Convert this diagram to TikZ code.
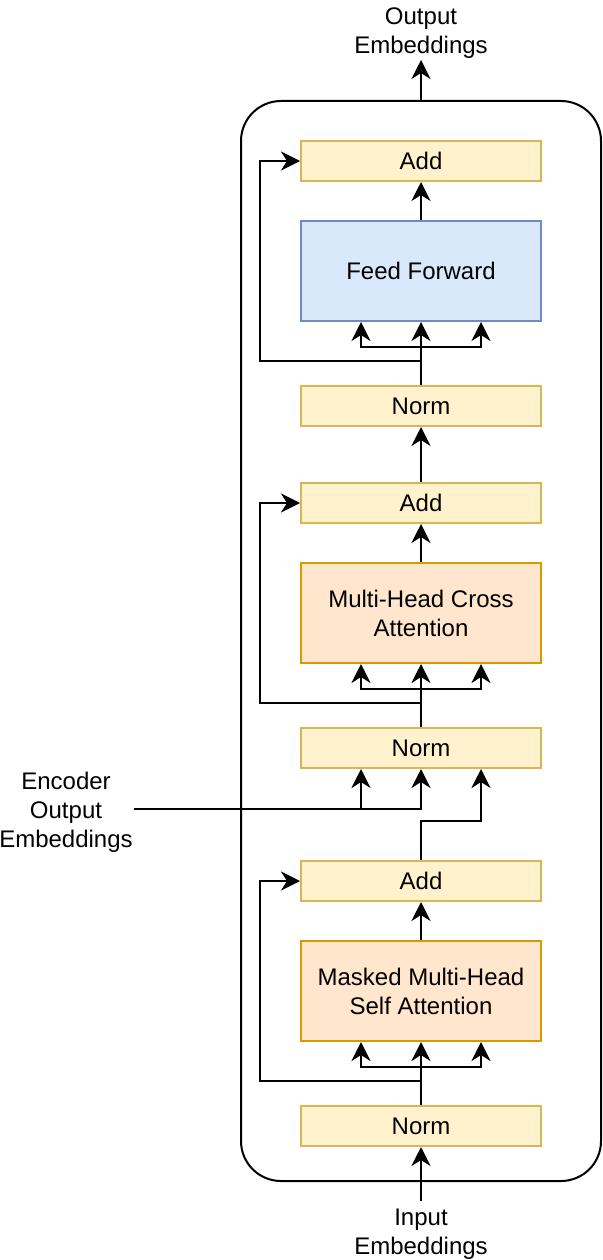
\documentclass[tikz,border=0pt]{standalone}
\usepackage{fontspec}
\setmainfont{Liberation Sans}
\usetikzlibrary{arrows.meta}
\definecolor{yfill}{HTML}{FFF2CC}
\definecolor{ystroke}{HTML}{D6B656}
\definecolor{bfill}{HTML}{DAE8FC}
\definecolor{bstroke}{HTML}{6C8EBF}
\definecolor{ofill}{HTML}{FFE6CC}
\definecolor{ostroke}{HTML}{D79B00}
\begin{document}
\begin{tikzpicture}[x=1pt,y=-1pt,line width=2pt,
  txt/.style={font=\fontsize{24pt}{29pt}\selectfont},
  box/.style={draw, txt, minimum width=240pt, inner sep=0pt, align=center},
  ybox/.style={box, fill=yfill, draw=ystroke, minimum height=40pt},
  bbox/.style={box, fill=bfill, draw=bstroke, minimum height=100pt},
  obox/.style={box, fill=ofill, draw=ostroke, minimum height=100pt},
  lbl/.style={txt, align=center, inner sep=0pt},
  arr/.style={-{Stealth[length=19pt,width=19pt,inset=6pt]}},
  ln/.style={line join=miter}]
\useasboundingbox (0,0) rectangle (602,1260);

% outer block
\node[draw, minimum width=360pt, minimum height=1080pt, rounded corners=40pt, inner sep=0pt] (block) at (421,641) {};

% boxes
\node[ybox] (add3) at (421,161) {Add};
\node[bbox] (ff) at (421,271) {Feed Forward};
\node[ybox] (norm3) at (421,406) {Norm};
\node[ybox] (add2) at (421,503) {Add};
\node[obox] (cross) at (421,613) {Multi-Head Cross\\Attention};
\node[ybox] (norm2) at (421,748) {Norm};
\node[ybox] (add1) at (421,881) {Add};
\node[obox] (masked) at (421,991) {Masked Multi-Head\\Self Attention};
\node[ybox] (norm1) at (421,1126) {Norm};

% labels
\node[lbl] (outtxt) at (421,33) {Output\\Embeddings};
\node[lbl] (intxt) at (421,1234) {Input\\Embeddings};
\node[lbl] (enctxt) at (66,812) {Encoder\\Output\\Embeddings};

% coordinates
\coordinate (outtip) at (421,60);
\coordinate (intail) at (421,1201);
\coordinate (f1) at (421,1067);
\coordinate (r1) at (421,1081);
\coordinate (j1) at (421,821);
\coordinate (e1) at (361,809);
\coordinate (e2) at (421,809);
\coordinate (f2) at (421,689);
\coordinate (r2) at (421,703);
\coordinate (f3) at (421,347);
\coordinate (r3) at (421,361);

% output / input
\draw[arr] (block.north) -- (outtip);
\draw[arr] (intail) -- (norm1.south);

% first sublayer
\draw[arr] (norm1.north) -- (masked.south);
\draw[arr,ln] (f1) -| ([xshift=-60pt]masked.south);
\draw[arr,ln] (f1) -| ([xshift=60pt]masked.south);
\draw[arr,ln] (r1) -| ([xshift=-40pt]add1.west) -- (add1.west);
\draw[arr] (masked.north) -- (add1.south);

% to norm2
\draw[arr,ln] (add1.north) -- (j1) -| ([xshift=60pt]norm2.south);
\draw[arr,ln] (enctxt.east |- e2) -- (e2) -- (norm2.south);
\draw[arr] (e1) -- ([xshift=-60pt]norm2.south);

% second sublayer
\draw[arr] (norm2.north) -- (cross.south);
\draw[arr,ln] (f2) -| ([xshift=-60pt]cross.south);
\draw[arr,ln] (f2) -| ([xshift=60pt]cross.south);
\draw[arr,ln] (r2) -| ([xshift=-40pt]add2.west) -- (add2.west);
\draw[arr] (cross.north) -- (add2.south);
\draw[arr] (add2.north) -- (norm3.south);

% third sublayer
\draw[arr] (norm3.north) -- (ff.south);
\draw[arr,ln] (f3) -| ([xshift=-60pt]ff.south);
\draw[arr,ln] (f3) -| ([xshift=60pt]ff.south);
\draw[arr,ln] (r3) -| ([xshift=-40pt]add3.west) -- (add3.west);
\draw[arr] (ff.north) -- (add3.south);
\end{tikzpicture}
\end{document}
